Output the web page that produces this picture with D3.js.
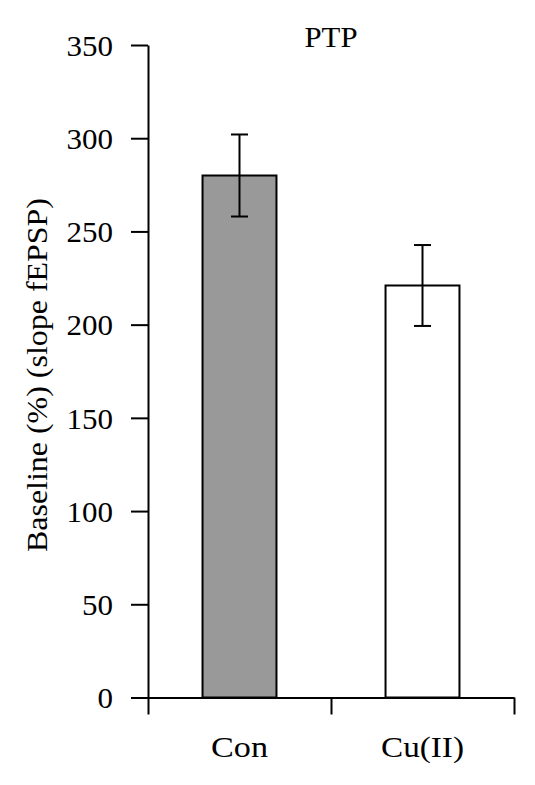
<!DOCTYPE html>
<html><head><meta charset="utf-8">
<script src="https://cdn.jsdelivr.net/npm/d3@7"></script>
<style>html,body{margin:0;padding:0;background:#fff;}svg text{font-family:"Liberation Serif","Times New Roman",serif;fill:#000;}</style>
</head><body>
<svg id="chart" width="535" height="785"></svg>
<script>
const categories = ["Con", "Cu(II)"];
const means = [280, 221];
const errors = [22, 21.7];
const fills = ["#999999", "#ffffff"];
const yTicks = [0, 50, 100, 150, 200, 250, 300, 350];
const title = "PTP";
const yLabel = "Baseline (%) (slope fEPSP)";

const svg = d3.select("#chart");
const x0 = 148, x1 = 514, yTop = 45, yBot = 697.5;
const x = d3.scaleBand().domain(categories).range([x0, x1]).padding(0);
const y = d3.scaleLinear().domain([0, 350]).range([yBot, yTop]);
const bw = x.bandwidth() * 0.404;
const fs = 30;

// bars
svg.selectAll("rect.bar").data(categories).join("rect")
  .attr("class", "bar")
  .attr("x", d => x(d) + x.bandwidth()/2 - bw/2)
  .attr("y", (d,i) => y(means[i]))
  .attr("width", bw)
  .attr("height", (d,i) => y(0) - y(means[i]))
  .attr("fill", (d,i) => fills[i])
  .attr("stroke", "#000").attr("stroke-width", 2);

// error bars
const cap = 8.5;
categories.forEach((c,i) => {
  const cx = x(c) + x.bandwidth()/2;
  const g = svg.append("g").attr("stroke", "#000").attr("stroke-width", 2);
  g.append("line").attr("x1", cx).attr("x2", cx).attr("y1", y(means[i]+errors[i])).attr("y2", y(means[i]-errors[i]));
  g.append("line").attr("x1", cx-cap).attr("x2", cx+cap).attr("y1", y(means[i]+errors[i])).attr("y2", y(means[i]+errors[i]));
  g.append("line").attr("x1", cx-cap).attr("x2", cx+cap).attr("y1", y(means[i]-errors[i])).attr("y2", y(means[i]-errors[i]));
});

// y axis
const yAxis = d3.axisLeft(y).tickValues(yTicks).tickSize(17).tickPadding(18).tickSizeOuter(0);
const ya = svg.append("g").attr("transform", `translate(${x0},0)`).call(yAxis);
ya.attr("font-family", null).attr("font-size", null);
ya.select(".domain").attr("stroke-width", 2);
ya.selectAll(".tick line").attr("stroke-width", 2);
ya.selectAll(".tick text").attr("font-size", fs).attr("dy", "0.34em")
  .attr("textLength", d => String(d).length * 15.5).attr("lengthAdjust", "spacingAndGlyphs");

// x axis
const xAxis = d3.axisBottom(d3.scaleLinear().domain([0,2]).range([x0, x1])).tickValues([0,1,2]).tickSize(17).tickFormat("").tickSizeOuter(0);
const xa = svg.append("g").attr("transform", `translate(0,${yBot})`).call(xAxis);
xa.select(".domain").attr("stroke-width", 2);
xa.selectAll(".tick line").attr("stroke-width", 2);
const xLabelLen = [57, 83];
svg.selectAll("text.xl").data(categories).join("text").attr("class","xl")
  .attr("x", d => x(d) + x.bandwidth()/2).attr("y", 757)
  .attr("text-anchor", "middle").attr("font-size", fs)
  .attr("textLength", (d,i) => xLabelLen[i]).attr("lengthAdjust", "spacingAndGlyphs")
  .text(d => d);

// title
svg.append("text").attr("x", 331).attr("y", 47).attr("text-anchor", "middle").attr("font-size", fs)
  .attr("textLength", 53).attr("lengthAdjust", "spacingAndGlyphs").text(title);

// y label
svg.append("text").attr("transform", `translate(47,375) rotate(-90)`)
  .attr("text-anchor", "middle").attr("font-size", 30)
  .attr("textLength", 354).attr("lengthAdjust", "spacingAndGlyphs").text(yLabel);
</script>
</body></html>
